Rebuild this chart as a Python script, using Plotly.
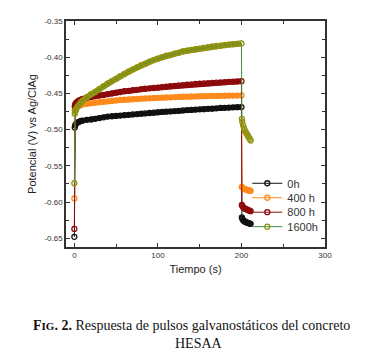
import plotly.graph_objects as go

# ---------------- data ----------------
tiempo = [0, 0.5, 1, 2, 4, 6, 8, 10, 15, 20, 25, 30, 35, 40, 45, 50, 55, 60, 65, 70,
          75, 80, 85, 90, 95, 100, 105, 110, 115, 120, 125, 130, 135, 140, 145, 150,
          155, 160, 165, 170, 175, 180, 185, 190, 195, 200,
          200.5, 201, 202, 203, 204, 205, 206, 207, 208, 209, 210, 211]

pot_0h = [-0.648, -0.497, -0.494, -0.492, -0.490, -0.489, -0.488, -0.4875, -0.4865, -0.486,
          -0.485, -0.484, -0.483, -0.482, -0.4815, -0.481, -0.4805, -0.480, -0.4795, -0.479,
          -0.4785, -0.478, -0.4775, -0.477, -0.4765, -0.476, -0.4755, -0.475, -0.4747, -0.4743,
          -0.474, -0.4735, -0.473, -0.4727, -0.4723, -0.472, -0.4717, -0.4713, -0.471, -0.4705,
          -0.470, -0.4698, -0.4695, -0.4692, -0.469, -0.4688,
          -0.621, -0.623, -0.625, -0.626, -0.627, -0.6275, -0.628, -0.6285, -0.629, -0.6293,
          -0.6296, -0.630]

pot_400h = [-0.595, -0.473, -0.471, -0.469, -0.4675, -0.4665, -0.466, -0.465, -0.4645, -0.4635,
            -0.463, -0.462, -0.4615, -0.461, -0.4603, -0.4597, -0.459, -0.4587, -0.4584, -0.458,
            -0.4576, -0.4572, -0.457, -0.4567, -0.4564, -0.456, -0.4558, -0.4555, -0.4553, -0.455,
            -0.4548, -0.4546, -0.4544, -0.4542, -0.454, -0.4539, -0.4538, -0.4537, -0.4535, -0.4534,
            -0.4533, -0.4532, -0.4531, -0.453, -0.4529, -0.4528,
            -0.579, -0.580, -0.581, -0.5815, -0.582, -0.5825, -0.583, -0.5833, -0.5836, -0.584,
            -0.5842, -0.5845]

pot_800h = [-0.637, -0.468, -0.465, -0.463, -0.461, -0.4595, -0.4585, -0.4575, -0.456, -0.4548,
            -0.4538, -0.4528, -0.452, -0.451, -0.450, -0.449, -0.448, -0.447, -0.4465, -0.4455,
            -0.445, -0.444, -0.4435, -0.443, -0.4425, -0.442, -0.4413, -0.4407, -0.440, -0.4395,
            -0.439, -0.4385, -0.438, -0.4375, -0.437, -0.4366, -0.4362, -0.4358, -0.4354, -0.435,
            -0.4346, -0.4343, -0.434, -0.4337, -0.4334, -0.4331,
            -0.604, -0.6055, -0.607, -0.608, -0.609, -0.6095, -0.610, -0.6105, -0.611, -0.6115,
            -0.612, -0.6125]

pot_1600h = [-0.574, -0.478, -0.475, -0.472, -0.468, -0.465, -0.462, -0.460, -0.455, -0.451,
             -0.448, -0.444, -0.440, -0.436, -0.433, -0.430, -0.426, -0.423, -0.420, -0.417,
             -0.414, -0.411, -0.409, -0.406, -0.404, -0.402, -0.400, -0.398, -0.397, -0.395,
             -0.394, -0.392, -0.391, -0.390, -0.389, -0.388, -0.387, -0.386, -0.385, -0.3845,
             -0.384, -0.3833, -0.3826, -0.382, -0.3815, -0.381,
             -0.485, -0.489, -0.494, -0.498, -0.501, -0.503, -0.505, -0.507, -0.509, -0.511,
             -0.513, -0.515]

series_names = ["0h", "400 h", "800 h", "1600h"]
y_tick_vals = [-0.35, -0.40, -0.45, -0.50, -0.55, -0.60, -0.65]
y_tick_text = ["-0.35", "-0.40", "-0.45", "-0.50", "-0.55", "-0.60", "-0.65"]
x_tick_vals = [0, 100, 200, 300]
x_tick_text = ["0", "100", "200", "300"]

# index range of the current-on part (after the first instantaneous point)
ON_START, ON_END = 1, 46

# ---------------- styling ----------------
marker_colors = ["#111111", "#ff8a1c", "#8e0b0b", "#939310"]
line_colors = ["#111111", "#ff8a1c", "#8e0b0b", "#3f8f3f"]
band_widths = [5, 5, 5.5, 6]
legend_ids = ["legend", "legend2", "legend3", "legend4"]
legend_y = [0.282, 0.218, 0.154, 0.090]

fig = go.Figure()
for name, vals, mc, lc, bw, lid in zip(series_names, [pot_0h, pot_400h, pot_800h, pot_1600h],
                                        marker_colors, line_colors, band_widths, legend_ids):
    # dense band formed by the many overlapping symbols during the pulse
    fig.add_trace(go.Scatter(
        x=tiempo[ON_START:ON_END], y=vals[ON_START:ON_END], mode="lines",
        line=dict(color=mc, width=bw), showlegend=False, hoverinfo="skip", legend=lid,
    ))
    fig.add_trace(go.Scatter(
        x=tiempo, y=vals, name=name, mode="lines+markers",
        line=dict(color=lc, width=1),
        marker=dict(symbol="circle-open", size=5, color=mc, line=dict(width=1.3, color=mc)),
        legend=lid,
    ))

axis_common = dict(
    showline=True, linecolor="#333333", linewidth=1.5, mirror="allticks",
    ticks="inside", ticklen=4, tickwidth=1, tickcolor="#333333",
    showgrid=False, zeroline=False,
    tickfont=dict(family="Liberation Sans, Arial", size=8, color="#333333"),
)

fig.update_xaxes(
    range=[-10, 300], tickvals=x_tick_vals, ticktext=x_tick_text,
    minor=dict(ticks="inside", ticklen=3, dtick=50, tick0=0, tickcolor="#333333", showgrid=False),
    title=dict(text="Tiempo (s)", font=dict(family="Liberation Sans, Arial", size=11, color="#222222"),
               standoff=6),
    **axis_common,
)
fig.update_yaxes(
    range=[-0.662, -0.35], tickvals=y_tick_vals, ticktext=y_tick_text,
    minor=dict(ticks="inside", ticklen=3, dtick=0.025, tick0=-0.35, tickcolor="#333333", showgrid=False),
    title=dict(text="Potencial (V) vs Ag/ClAg", font=dict(family="Liberation Sans, Arial", size=11,
               color="#222222"), standoff=6),
    **axis_common,
)

legend_font = dict(family="Liberation Sans, Arial", size=11, color="#333333")
leg_layout = {}
for lid, ly in zip(legend_ids, legend_y):
    leg_layout[lid] = dict(x=0.70, y=ly, xanchor="left", yanchor="middle",
                           bgcolor="rgba(0,0,0,0)", borderwidth=0, font=legend_font,
                           itemwidth=30, tracegroupgap=0)

fig.update_layout(
    width=368, height=358,
    margin=dict(l=66, r=43, t=21, b=111, autoexpand=False),
    paper_bgcolor="white", plot_bgcolor="white",
    showlegend=True,
    **leg_layout,
)

cap_font = dict(family="Liberation Serif, Times New Roman", size=14, color="#111111")
fig.add_annotation(
    text="<b>F<span style='font-size:11px'>IG</span>. 2.</b> Respuesta de pulsos galvanostáticos del concreto",
    xref="paper", yref="paper", x=0.486, y=(246.7 - 325.5) / 226, xanchor="center", yanchor="middle",
    showarrow=False, font=cap_font,
)
fig.add_annotation(
    text="HESAA", xref="paper", yref="paper", x=0.514, y=(246.7 - 343) / 226,
    xanchor="center", yanchor="middle", showarrow=False, font=cap_font,
)

fig.write_html("out.html", config={"displayModeBar": False},
               post_script="document.body.style.margin='0px';")
